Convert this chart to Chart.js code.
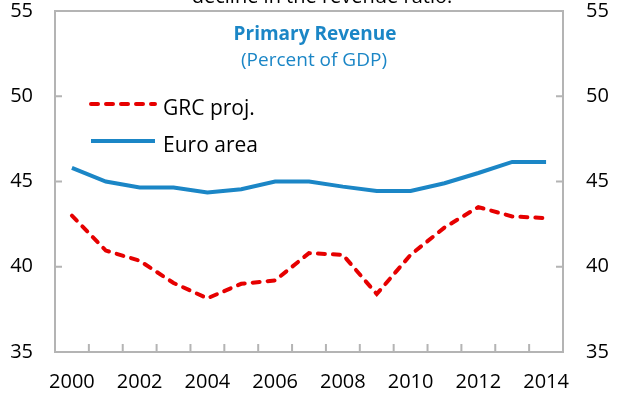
<!DOCTYPE html>
<html>
<head>
<meta charset="utf-8">
<script src="https://cdn.jsdelivr.net/npm/chart.js@4.4.1/dist/chart.umd.min.js"></script>
<style>
  body { margin: 0; background: #fff; }
  canvas { display: block; }
</style>
</head>
<body>
<canvas id="revenueChart" width="620" height="399"></canvas>
<script>
const years = ["2000", "2001", "2002", "2003", "2004", "2005", "2006", "2007",
  "2008", "2009", "2010", "2011", "2012", "2013", "2014"];
const grcProj = [43.0, 40.95, 40.35, 39.05, 38.15, 39.0, 39.2, 40.8, 40.7, 38.4,
  40.7, 42.3, 43.5, 42.95, 42.85];
const euroArea = [45.8, 45.0, 44.65, 44.65, 44.35, 44.55, 45.0, 45.0, 44.7, 44.45,
  44.45, 44.9, 45.5, 46.15, 46.15];
const yTicks = [35, 40, 45, 50, 55];

const RED = "#e60000";
const BLUE = "#1b86c6";
const FRAME = "#b4b4b4";
const FONT = "'Open Sans', sans-serif";

// frame, inward tick marks, titles and legend
const decorations = {
  id: "decorations",
  afterDatasetsDraw(chart) {
    const { ctx, chartArea: a } = chart;
    const x = chart.scales.x;
    const y = chart.scales.y;
    ctx.save();
    ctx.strokeStyle = FRAME;
    ctx.lineWidth = 2;
    ctx.strokeRect(a.left, a.top, a.right - a.left, a.bottom - a.top);

    ctx.beginPath();
    yTicks.slice(1, -1).forEach((v) => {
      const py = y.getPixelForValue(v);
      ctx.moveTo(a.left, py);
      ctx.lineTo(a.left + 7, py);
      ctx.moveTo(a.right, py);
      ctx.lineTo(a.right - 7, py);
    });
    for (let i = 1; i < years.length; i++) {
      const px = (x.getPixelForValue(i - 1) + x.getPixelForValue(i)) / 2;
      ctx.moveTo(px, a.bottom);
      ctx.lineTo(px, a.bottom - 8);
    }
    ctx.stroke();
    ctx.restore();
  },
  afterDraw(chart) {
    const { ctx } = chart;
    ctx.save();
    ctx.textAlign = "center";
    ctx.textBaseline = "alphabetic";
    ctx.fillStyle = "#000";
    ctx.font = `20px ${FONT}`;
    ctx.fillText("decline in the revenue ratio.", 322, 3);

    ctx.fillStyle = BLUE;
    ctx.font = `bold 19px ${FONT}`;
    ctx.fillText("Primary Revenue", 315, 40);
    ctx.font = `19px ${FONT}`;
    ctx.fillText("(Percent of GDP)", 314, 66);

    // legend
    const rows = [[104, 115], [141, 152]];
    chart.data.datasets.forEach((ds, i) => {
      const [ly, base] = rows[i];
      ctx.beginPath();
      ctx.strokeStyle = ds.borderColor;
      ctx.lineWidth = ds.borderWidth;
      ctx.lineCap = ds.borderCapStyle || "butt";
      ctx.setLineDash(ds.borderDash || []);
      ctx.moveTo(91, ly);
      ctx.lineTo(155, ly);
      ctx.stroke();
      ctx.setLineDash([]);
      ctx.fillStyle = "#000";
      ctx.textAlign = "left";
      ctx.font = `21px ${FONT}`;
      ctx.fillText(ds.label, 163, base);
    });
    ctx.restore();
  },
};

const tickFont = { family: FONT, size: 20 };

// keep the tick labels from pushing the plot area in
const fitY = (w) => (s) => {
  s.width = w;
  s.paddingTop = 0;
  s.paddingBottom = 0;
};

new Chart(document.getElementById("revenueChart"), {
  type: "line",
  data: {
    labels: years,
    datasets: [
      {
        label: "GRC proj.",
        data: grcProj,
        borderColor: RED,
        borderWidth: 4,
        borderDash: [7, 8],
        borderCapStyle: "round",
        pointRadius: 0,
        tension: 0,
      },
      {
        label: "Euro area",
        data: euroArea,
        borderColor: BLUE,
        borderWidth: 4,
        pointRadius: 0,
        tension: 0,
      },
    ],
  },
  options: {
    responsive: false,
    animation: false,
    layout: { padding: { top: 11, left: 0, right: 0, bottom: 0 } },
    plugins: {
      legend: { display: false },
      tooltip: { enabled: false },
    },
    scales: {
      x: {
        type: "category",
        offset: true,
        grid: { display: false, drawTicks: false },
        border: { display: false },
        ticks: {
          autoSkip: false,
          maxRotation: 0,
          padding: 18,
          color: "#000",
          font: tickFont,
          callback: (v, i) => (i % 2 === 0 ? years[i] : ""),
        },
        afterFit: (s) => {
          s.height = 47;
          s.paddingLeft = 0;
          s.paddingRight = 0;
        },
      },
      y: {
        position: "left",
        min: 35,
        max: 55,
        grid: { display: false, drawTicks: false },
        border: { display: false },
        ticks: { stepSize: 5, padding: 22, color: "#000", font: tickFont },
        afterFit: fitY(55),
      },
      y2: {
        position: "right",
        min: 35,
        max: 55,
        grid: { display: false, drawTicks: false },
        border: { display: false },
        ticks: { stepSize: 5, padding: 23, color: "#000", font: tickFont },
        afterFit: fitY(57),
      },
    },
  },
  plugins: [decorations],
});
</script>
</body>
</html>
